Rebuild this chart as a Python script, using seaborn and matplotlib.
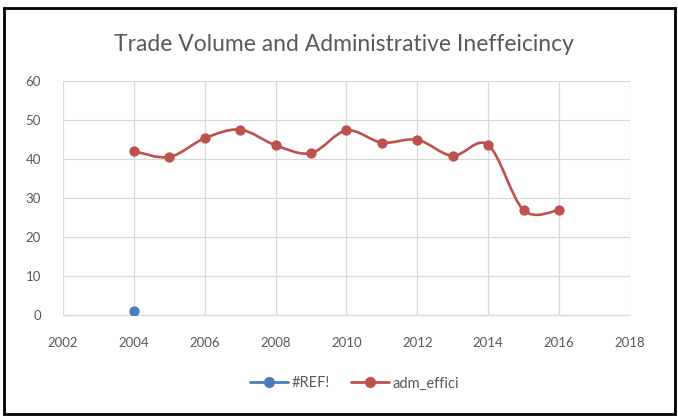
import numpy as np
import pandas as pd
import matplotlib
matplotlib.use("Agg")
import matplotlib.pyplot as plt
from matplotlib.path import Path
from matplotlib.patches import PathPatch, Rectangle
from matplotlib.lines import Line2D
import seaborn as sns

years = [2004, 2005, 2006, 2007, 2008, 2009, 2010, 2011, 2012, 2013, 2014, 2015, 2016]
adm_effici = [42.0, 40.5, 45.3, 47.5, 43.5, 41.5, 47.3, 44.2, 44.9, 40.8, 43.6, 26.9, 26.9]
ref_years = [2004]
ref_values = [1.0]
x_ticks = [2002, 2004, 2006, 2008, 2010, 2012, 2014, 2016, 2018]
y_ticks = [0, 10, 20, 30, 40, 50, 60]
title = "Trade Volume and Administrative Ineffeicincy"

RED = "#C0504D"
BLUE = "#4A7EBB"
GRID = "#D9D9D9"
TXT = "#595959"

sns.set_theme(style="white")
plt.rcParams["font.family"] = ["Lato", "DejaVu Sans"]

fig = plt.figure(figsize=(6.78, 4.19), dpi=100)
ax = fig.add_axes([0.093, 0.248, 0.836, 0.559])

df = pd.DataFrame({"year": years, "value": adm_effici})
dref = pd.DataFrame({"year": ref_years, "value": ref_values})

# smoothed line (Excel-like Catmull-Rom -> Bezier) in data coordinates
xs = np.array(years, float)
ys = np.array(adm_effici, float)
verts = [(xs[0], ys[0])]
codes = [Path.MOVETO]
n = len(xs)
t = 1.0 / 6.0
for i in range(n - 1):
    p0 = (xs[i - 1], ys[i - 1]) if i > 0 else (xs[i], ys[i])
    p1 = (xs[i], ys[i])
    p2 = (xs[i + 1], ys[i + 1])
    p3 = (xs[i + 2], ys[i + 2]) if i + 2 < n else (xs[i + 1], ys[i + 1])
    c1 = (p1[0] + (p2[0] - p0[0]) * t, p1[1] + (p2[1] - p0[1]) * t)
    c2 = (p2[0] - (p3[0] - p1[0]) * t, p2[1] - (p3[1] - p1[1]) * t)
    verts += [c1, c2, p2]
    codes += [Path.CURVE4] * 3
ax.add_patch(PathPatch(Path(verts, codes), facecolor="none", edgecolor=RED, lw=1.9, zorder=3))

sns.scatterplot(data=df, x="year", y="value", ax=ax, color=RED, s=55, edgecolor=RED, linewidth=0, zorder=4)
sns.scatterplot(data=dref, x="year", y="value", ax=ax, color=BLUE, s=55, edgecolor=BLUE, linewidth=0, zorder=4)

ax.set_xlim(2002, 2018)
ax.set_ylim(0, 60)
ax.set_xticks(x_ticks)
ax.set_yticks(y_ticks)
ax.set_xticklabels([str(v) for v in x_ticks])
ax.set_yticklabels([str(v) for v in y_ticks])
ax.grid(True, color=GRID, lw=0.9)
ax.set_axisbelow(True)
for s in ["top", "right", "left"]:
    ax.spines[s].set_visible(False)
ax.spines["bottom"].set_color(GRID)
ax.spines["bottom"].set_linewidth(1.0)
ax.tick_params(axis="both", length=0, colors=TXT, labelsize=9.5)
ax.tick_params(axis="x", pad=16)
ax.tick_params(axis="y", pad=16)
ax.set_xlabel("")
ax.set_ylabel("")

fig.text(0.508, 0.893, title, ha="center", va="center", fontsize=16.5, color=TXT)

handles = [
    Line2D([0], [0], color=BLUE, lw=2, marker="o", markersize=7),
    Line2D([0], [0], color=RED, lw=2, marker="o", markersize=7),
]
fig.legend(handles, ["#REF!", "adm_effici"], loc="center", bbox_to_anchor=(0.523, 0.085),
           ncol=2, frameon=False, fontsize=10.5, labelcolor=TXT, handlelength=2.6,
           columnspacing=1.4, handletextpad=0.3)

fig.patches.append(Rectangle((0.006, 0.012), 0.99, 0.968, transform=fig.transFigure,
                             fill=False, edgecolor="black", lw=2.0))

fig.savefig("out.png", dpi=100)
